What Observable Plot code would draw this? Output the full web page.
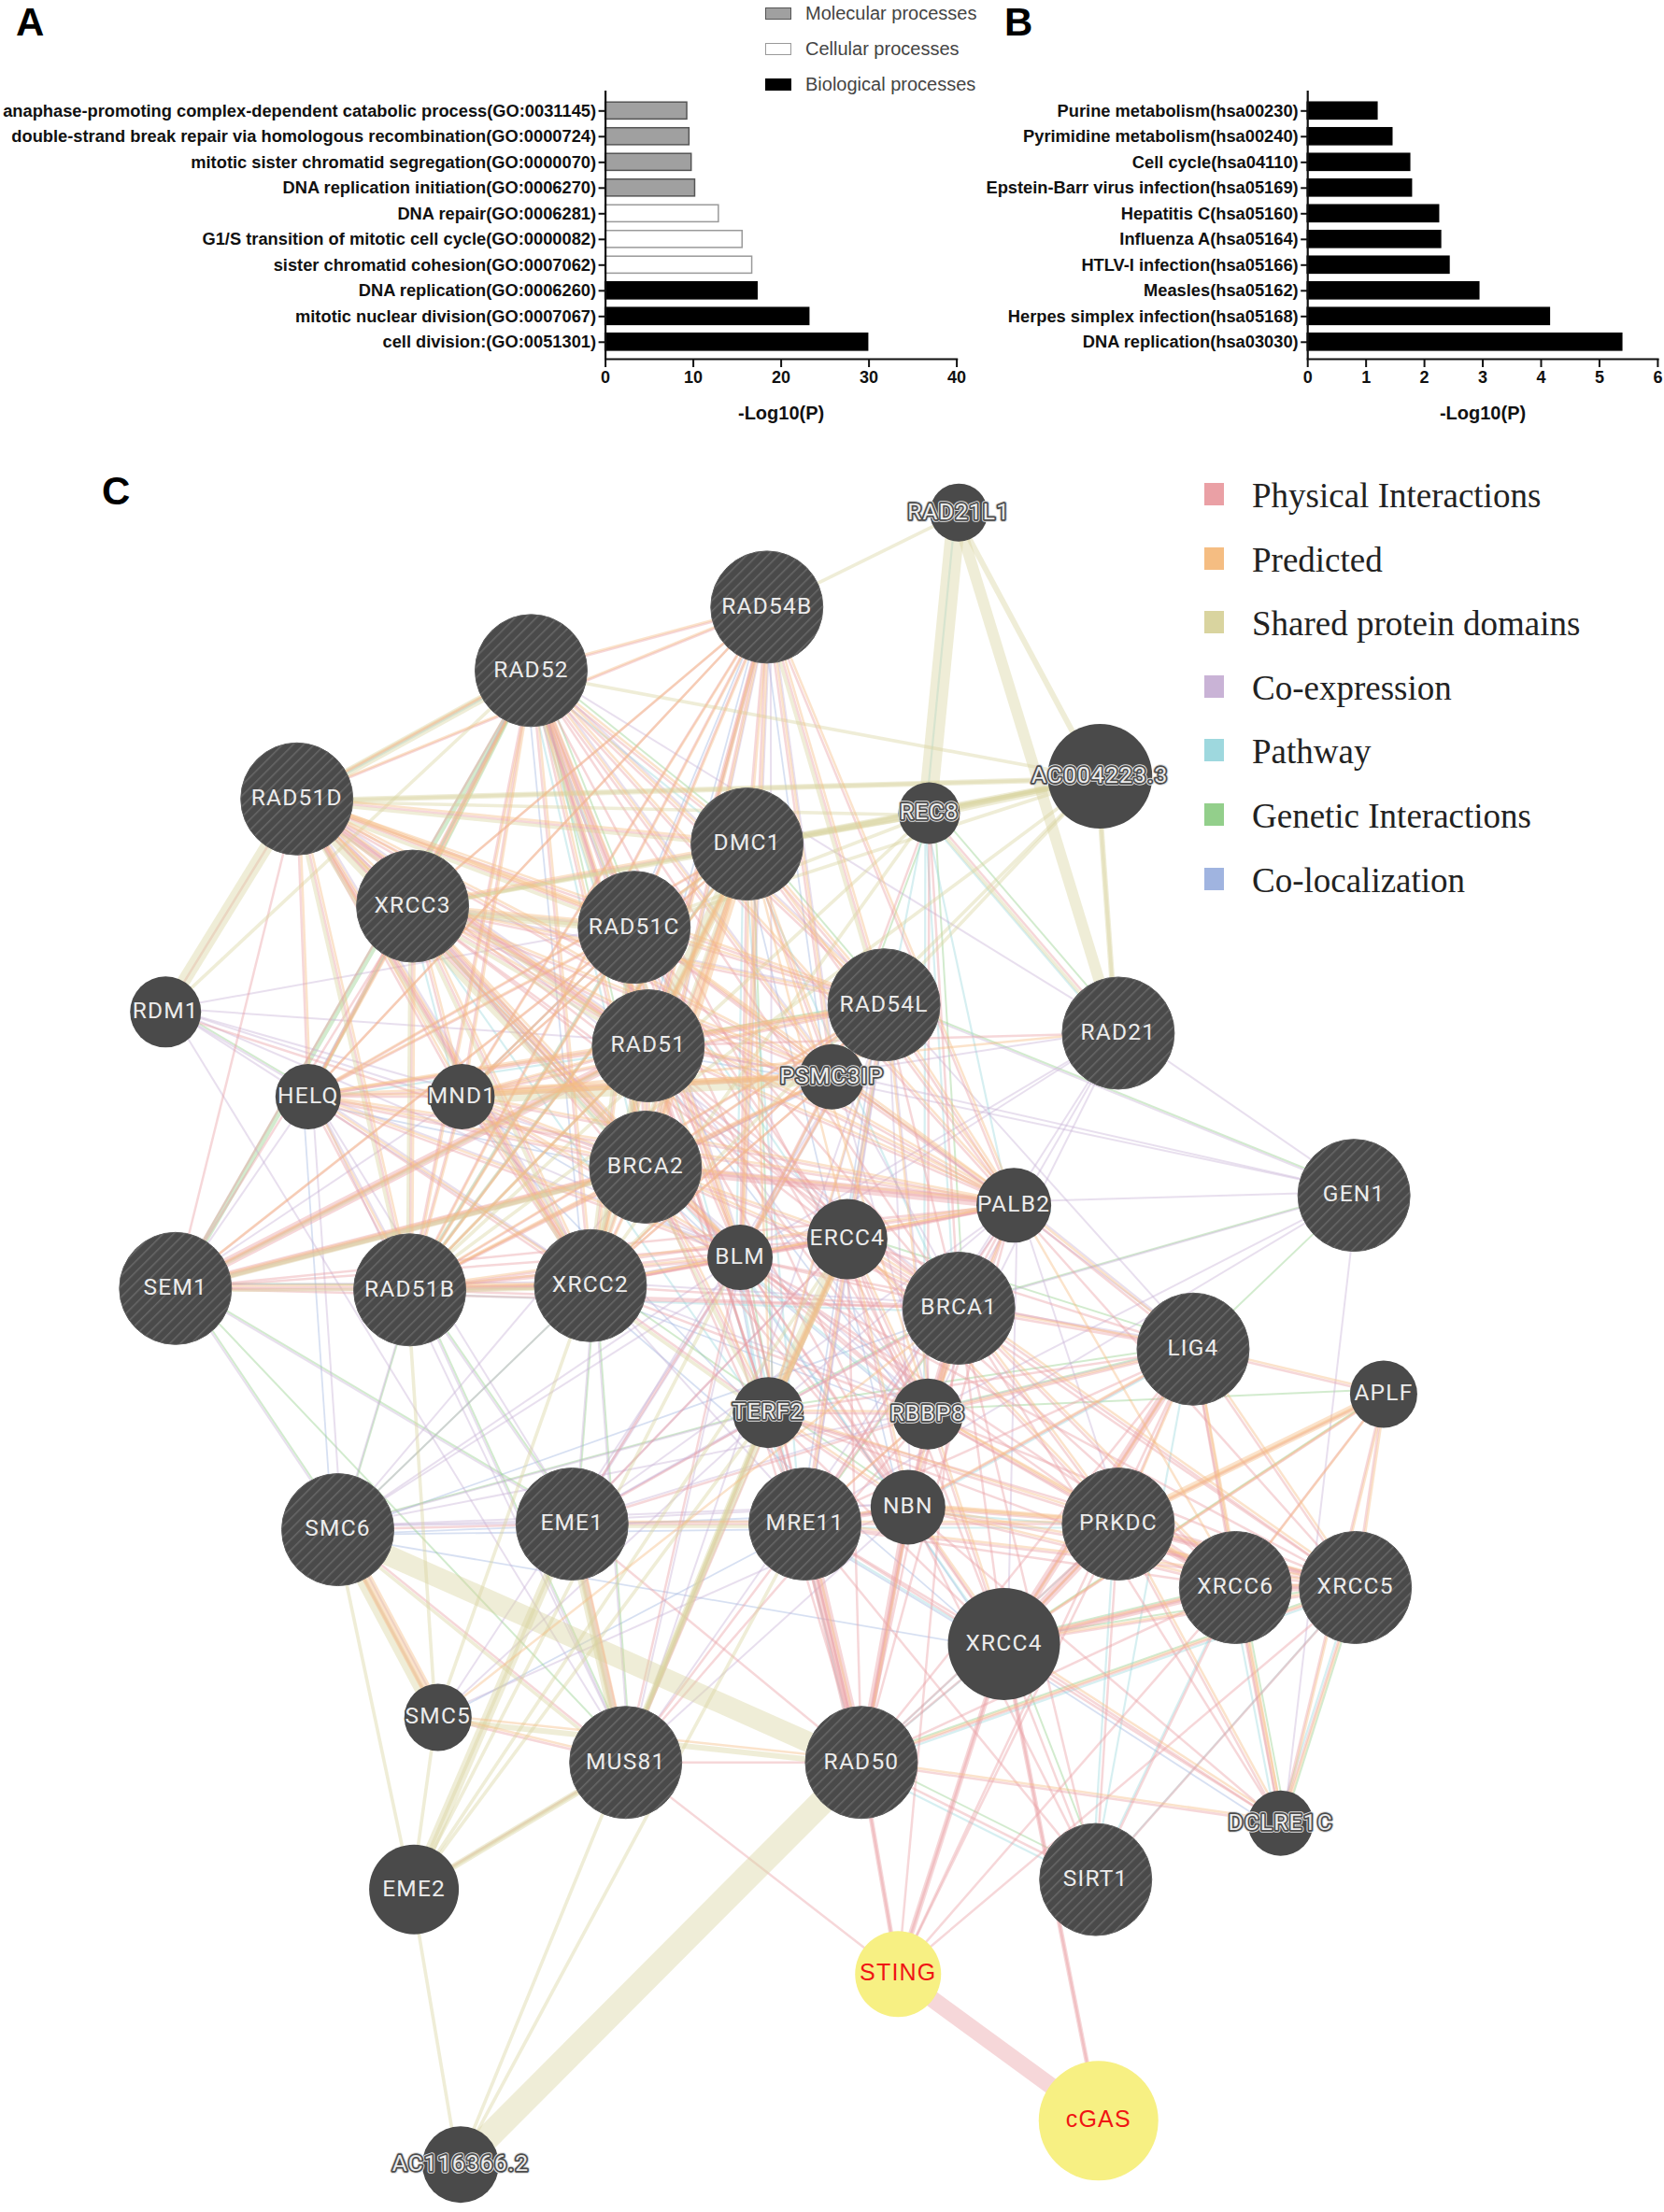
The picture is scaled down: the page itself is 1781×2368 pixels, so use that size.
<!DOCTYPE html>
<html><head><meta charset="utf-8">
<script src="https://cdn.jsdelivr.net/npm/d3@7"></script>
<script src="https://cdn.jsdelivr.net/npm/@observablehq/plot@0.6"></script>
<style>
html,body{margin:0;padding:0;background:#fff}
#page{position:relative;width:1781px;height:2368px;overflow:hidden;font-family:"Liberation Sans",Arial,sans-serif}
#page>svg,#page>div{position:absolute}
.letter{font-weight:bold;font-size:42px;line-height:42px;color:#000}
#legA{left:819px;top:0;width:220px}
#legA .r{position:absolute;left:0;display:flex;align-items:center;height:24px;white-space:nowrap;font-size:20px;color:#444}
#legA i{display:inline-block;box-sizing:border-box;width:28px;height:13px;margin-right:15px;border:1.5px solid #555}
#legC .r{position:absolute;left:0;height:42px;white-space:nowrap;font:37px/42px "Liberation Serif",serif;color:#222}
#legC i{position:absolute;left:0;top:9px;width:21px;height:24px}
#legC span{position:absolute;left:51px;top:2px}
</style></head><body><div id="page"></div>
<script>
// ---- Panel A
const goTerms=["anaphase-promoting complex-dependent catabolic process(GO:0031145)","double-strand break repair via homologous recombination(GO:0000724)","mitotic sister chromatid segregation(GO:0000070)","DNA replication initiation(GO:0006270)","DNA repair(GO:0006281)","G1/S transition of mitotic cell cycle(GO:0000082)","sister chromatid cohesion(GO:0007062)","DNA replication(GO:0006260)","mitotic nuclear division(GO:0007067)","cell division:(GO:0051301)"];
const goValues=[9.3,9.55,9.8,10.2,12.9,15.6,16.7,17.3,23.2,29.9];
const goGroups=["Molecular processes","Molecular processes","Molecular processes","Molecular processes","Cellular processes","Cellular processes","Cellular processes","Biological processes","Biological processes","Biological processes"];
const goLegend=["Molecular processes","Cellular processes","Biological processes"];
const goFill=["#a0a0a0","#ffffff","#000000"];
const goStroke=["#555555","#9a9a9a","#000000"];
// ---- Panel B
const keggTerms=["Purine metabolism(hsa00230)","Pyrimidine metabolism(hsa00240)","Cell cycle(hsa04110)","Epstein-Barr virus infection(hsa05169)","Hepatitis C(hsa05160)","Influenza A(hsa05164)","HTLV-I infection(hsa05166)","Measles(hsa05162)","Herpes simplex infection(hsa05168)","DNA replication(hsa03030)"];
const keggValues=[1.195,1.45,1.755,1.785,2.25,2.285,2.43,2.94,4.15,5.39];
// ---- Panel C: nodes, read in the 1179x1568 view of the picture
const nodeNames=["RAD21L1","RAD54B","RAD52","RAD51D","AC004223.3","REC8","DMC1","XRCC3","RAD51C","RDM1","RAD54L","RAD21","RAD51","PSMC3IP","HELQ","MND1","BRCA2","GEN1","PALB2","ERCC4","BLM","SEM1","RAD51B","XRCC2","BRCA1","LIG4","APLF","TERF2","RBBP8","SMC6","EME1","MRE11","NBN","PRKDC","XRCC6","XRCC5","XRCC4","SMC5","MUS81","RAD50","DCLRE1C","SIRT1","EME2","STING","cGAS","AC116366.2"];
const nodeX=[679,543,376,210,779,658,529,292,449,117,626,792,459,589,218,327,457,959,718,600,524,124,290,418,679,845,980,544,657,239,405,570,643,792,875,960,711,310,443,610,907,776,293,636,778,326];
const nodeY=[363,430,475,566,550,576,598,642,657,717,712,732,741,763,777,777,827,847,854,878,891,913,914,911,927,956,988,1001,1002,1084,1080,1080,1068,1080,1125,1125,1165,1217,1249,1249,1292,1332,1339,1399,1503,1534];
const nodeR=[31,60,60,60,56,33,60,60,60,38,60,60,60,35,35,35,60,60,40,43,35,60,60,60,60,60,36,38,38,60,60,60,40,60,60,60,60,36,60,60,35,60,48,46,64,41];
const highlighted=["STING","cGAS"];
const outlined=["RAD21L1","AC004223.3","PSMC3IP","DCLRE1C","AC116366.2","REC8","RBBP8","TERF2"];
const darkEdged=["HELQ","MND1","RDM1","SMC5","APLF","ERCC4","PALB2"];
const plainDark=["RAD21L1","REC8","RDM1","PSMC3IP","HELQ","MND1","PALB2","ERCC4","BLM","APLF","TERF2","RBBP8","NBN","SMC5","DCLRE1C","EME2","AC116366.2","AC004223.3","XRCC4"];
// ---- Panel C: legend
const edgeTypes=["Physical Interactions","Predicted","Shared protein domains","Co-expression","Pathway","Genetic Interactions","Co-localization"];
const edgeColors=["#eaa0a5","#f5bd82","#d9d49f","#c9b3d6","#9ed8de","#93cf8b","#a0b4e0"];
// ---- Panel C: gene groups whose members are joined in the picture
const hrCore="RAD51 RAD51B RAD51C RAD51D XRCC2 XRCC3 BRCA2 DMC1 RAD52 RAD54L RAD54B PSMC3IP MND1 HELQ BLM PALB2";
const hrParalogs="RAD51 RAD51B RAD51C RAD51D XRCC2 XRCC3 DMC1";
const repairCore="BRCA1 MRE11 RAD50 NBN RBBP8 TERF2 BLM ERCC4 PRKDC XRCC4 XRCC5 XRCC6 LIG4";
const nhej="PRKDC XRCC4 XRCC5 XRCC6 LIG4 APLF DCLRE1C";
// ---- Panel C: edges, hub then partners
const physical={
RAD51:"BRCA1 SEM1 RAD21 RBBP8 NBN MRE11 RAD50 TERF2 ERCC4",
BRCA2:"BRCA1 RBBP8 NBN MRE11 ERCC4 RDM1 SEM1 TERF2",
SEM1:"RAD51B XRCC2 PALB2 BRCA1 RAD51C RAD52 ERCC4 XRCC3 RAD51D",
RAD51C:"BRCA1 RBBP8 NBN ERCC4",
XRCC3:"BRCA1 ERCC4 NBN",
XRCC2:"BRCA1 RBBP8 ERCC4 TERF2",
RAD51B:"BRCA1 ERCC4",
RAD51D:"RDM1 BRCA1",
RAD54L:"BRCA1 ERCC4",
RAD52:"BRCA1 RBBP8 TERF2",
PALB2:"BRCA1 RBBP8 ERCC4 MRE11 NBN RAD50 XRCC5 LIG4",
BRCA1:"SIRT1 DCLRE1C",
MRE11:"SIRT1 EME1 MUS81 DCLRE1C",
RAD50:"SIRT1 MUS81 EME1 DCLRE1C STING",
NBN:"SIRT1 DCLRE1C",
PRKDC:"SIRT1 STING",
XRCC6:"SIRT1 STING",
XRCC5:"SIRT1 STING",
XRCC4:"STING cGAS SIRT1",
LIG4:"STING",
STING:"MUS81 BRCA1",
MUS81:"EME2 SMC5 BLM ERCC4 TERF2 RBBP8 SMC6",
EME1:"BLM TERF2 ERCC4 SMC6 RBBP8",
SMC6:"SMC5",
REC8:"RAD21 PSMC3IP BRCA1 RBBP8"};
const predicted={
MND1:"RAD21",
SEM1:"RAD51 XRCC2 RAD51C BRCA2",
BRCA2:"TERF2 BRCA1 ERCC4",
DMC1:"TERF2 ERCC4 RBBP8",
RAD54L:"ERCC4 PALB2 TERF2 RBBP8",
ERCC4:"TERF2 RBBP8 BRCA1 MRE11 NBN PRKDC",
BRCA1:"RBBP8 NBN XRCC5 LIG4 PRKDC XRCC6",
MRE11:"RBBP8 NBN PRKDC XRCC5",
NBN:"PRKDC XRCC4 XRCC6 XRCC5 LIG4",
RBBP8:"PRKDC XRCC4 LIG4 XRCC6",
TERF2:"PRKDC NBN RBBP8",
RAD50:"DCLRE1C MRE11 NBN XRCC5 SMC5",
EME1:"MUS81 MRE11",
PALB2:"RBBP8 LIG4 XRCC6",
SMC5:"MUS81 BRCA1"};
const shared={
RAD51:"RAD52",
DMC1:"AC004223.3 REC8",
RAD51C:"REC8 AC004223.3",
RAD51D:"REC8 AC004223.3",
XRCC2:"AC004223.3 REC8",
XRCC3:"AC004223.3 REC8",
RAD51B:"AC004223.3 REC8",
RAD54L:"RAD54B AC004223.3",
REC8:"AC004223.3 RAD21",
RDM1:"RAD52",
EME1:"MUS81 EME2 MRE11",
MUS81:"EME2 ERCC4 TERF2",
EME2:"SMC5 SMC6 AC116366.2 TERF2 ERCC4 BLM",
SMC6:"MUS81",
SMC5:"RAD51B XRCC2",
RAD21L1:"RAD54B",
SEM1:"RAD51 BRCA2 XRCC2",
"AC004223.3":"RAD52 RAD54L RAD21",
"AC116366.2":"MRE11 TERF2",
TERF2:"XRCC2 BRCA2"};
const coexpression={
RDM1:"HELQ MND1 MUS81 RAD51 BRCA2 XRCC2 BLM RAD51C",
SEM1:"HELQ SMC6 MND1 XRCC2 EME1",
RAD52:"RAD54L PSMC3IP RAD21",
GEN1:"RAD21 PSMC3IP RAD54L RAD51 BRCA1 PALB2 MRE11 RBBP8 DCLRE1C",
SMC6:"EME1 MRE11 XRCC2 BLM TERF2 RBBP8 BRCA2 RAD51B NBN SMC5",
RAD54L:"MUS81 TERF2 ERCC4 MRE11 XRCC3 LIG4 NBN RBBP8",
EME1:"BLM ERCC4 TERF2 RBBP8 NBN BRCA1 RAD51B XRCC2 PALB2 RAD54L",
RAD54B:"BRCA2 RAD51 BLM PSMC3IP TERF2",
RAD51D:"RAD51 BRCA1 XRCC2 BLM",
PALB2:"TERF2 MUS81 LIG4 XRCC4 PRKDC GEN1",
HELQ:"SMC6 XRCC2 RAD51B EME1 BLM MUS81",
MRE11:"RAD21 ERCC4 XRCC2",
RBBP8:"RAD51 BRCA2 XRCC2 PSMC3IP",
BLM:"PSMC3IP RAD54L RAD51C XRCC2",
RAD21:"PSMC3IP SMC6 BRCA1 BLM RBBP8",
BRCA1:"XRCC2 PSMC3IP LIG4",
LIG4:"RBBP8 PSMC3IP",
MUS81:"XRCC2 RAD51B NBN BLM",
SMC5:"BLM TERF2 NBN"};
const pathway={
REC8:"BRCA1 RAD21 RBBP8 ERCC4 RAD21L1 PALB2",
PRKDC:"NBN RAD50 SIRT1 MRE11",
LIG4:"SIRT1 NBN",
XRCC4:"NBN RAD50 MRE11",
DMC1:"MRE11 BRCA1 BLM RAD51B",
RAD52:"RAD51C DMC1 XRCC3 BRCA2 RAD51 RAD51D",
RAD51B:"BRCA1 RAD51C",
RAD51C:"ERCC4 TERF2",
MRE11:"RAD50 TERF2 BLM",
RAD50:"SIRT1 XRCC5",
XRCC5:"SIRT1 DCLRE1C",
XRCC6:"SIRT1 DCLRE1C",
HELQ:"XRCC3 RAD51",
XRCC3:"BLM TERF2 MND1 BRCA2",
MND1:"RAD51C",
BLM:"TERF2 RBBP8 NBN"};
const genetic={
RAD52:"HELQ XRCC3 RAD51C DMC1 BRCA2",
RAD54L:"GEN1 DMC1 RAD51",
GEN1:"BRCA1 LIG4",
REC8:"RAD21 BRCA1 PSMC3IP",
RAD50:"SIRT1 XRCC5",
XRCC4:"SIRT1 XRCC6 XRCC5",
SMC6:"SEM1 TERF2 XRCC2 RAD51B",
SEM1:"MUS81 RAD51B EME1",
TERF2:"DMC1 BLM BRCA1",
DCLRE1C:"XRCC5 XRCC6",
RDM1:"HELQ",
APLF:"XRCC4 RBBP8",
RAD51B:"EME1 MUS81",
XRCC2:"EME1 MUS81 NBN",
LIG4:"ERCC4 RBBP8 TERF2",
BRCA1:"MRE11"};
const coloc={
RAD52:"XRCC2 RAD51C",
MRE11:"SMC6 SMC5 RAD54L",
NBN:"SMC6 DMC1",
XRCC4:"DCLRE1C XRCC2 BLM MRE11",
SMC6:"BRCA1 XRCC4",
RAD54B:"RAD51C PSMC3IP RAD51",
RBBP8:"XRCC2 RAD51 BLM",
BLM:"MND1 BRCA2 TERF2",
HELQ:"SMC6 BRCA2",
MND1:"TERF2",
PSMC3IP:"BRCA2 RAD51"};
// heavy edges: a, b, width, type
const heavyEdges=[
["AC116366.2","RAD50",27,"Shared protein domains"],["RAD21L1","REC8",20,"Shared protein domains"],["RAD21L1","AC004223.3",6,"Shared protein domains"],["RAD21L1","RAD21",12,"Shared protein domains"],["AC004223.3","RAD21",6,"Shared protein domains"],
["RDM1","RAD51D",14,"Shared protein domains"],["RAD51D","RAD52",9,"Shared protein domains"],["SMC6","RAD50",22,"Shared protein domains"],["SMC6","SMC5",11,"Shared protein domains"],["EME2","EME1",11,"Shared protein domains"],["EME2","MUS81",7,"Shared protein domains"],["SMC5","RAD50",6,"Shared protein domains"],
["DMC1","AC004223.3",7,"Shared protein domains"],["RAD51D","AC004223.3",6,"Shared protein domains"],["REC8","AC004223.3",8,"Shared protein domains"],["RAD51","DMC1",14,"Shared protein domains"],["RAD51C","XRCC3",9,"Shared protein domains"],["MND1","PSMC3IP",12,"Shared protein domains"],["BRCA2","RAD51D",6,"Shared protein domains"],["XRCC2","RAD51",8,"Shared protein domains"],["MUS81","EME1",9,"Shared protein domains"],["SEM1","BRCA2",6,"Shared protein domains"],["TERF2","ERCC4",12,"Shared protein domains"],["MUS81","TERF2",7,"Shared protein domains"],
["STING","cGAS",18,"Physical Interactions"],["BRCA2","PALB2",10,"Physical Interactions"],["SEM1","RAD51",10,"Physical Interactions"],["SEM1","BRCA2",8,"Physical Interactions"],["MRE11","RAD50",14,"Physical Interactions"],["RAD51D","RAD51",7,"Physical Interactions"],["RAD52","RAD51C",7,"Physical Interactions"],["RAD52","RAD51",5,"Physical Interactions"],["MUS81","EME1",7,"Physical Interactions"],["XRCC6","XRCC5",8,"Physical Interactions"],["PRKDC","XRCC5",6,"Physical Interactions"],["PRKDC","XRCC6",7,"Physical Interactions"],["LIG4","XRCC4",9,"Physical Interactions"],["PRKDC","XRCC4",9,"Physical Interactions"],["XRCC4","XRCC6",7,"Physical Interactions"],["BRCA1","RBBP8",7,"Physical Interactions"],["NBN","RAD50",8,"Physical Interactions"],["NBN","MRE11",6,"Physical Interactions"],["RAD50","STING",5,"Physical Interactions"],["XRCC4","cGAS",5,"Physical Interactions"],["XRCC4","STING",6,"Physical Interactions"],["RAD51D","XRCC2",6,"Physical Interactions"],["RAD51B","XRCC2",6,"Physical Interactions"],
["PRKDC","APLF",8,"Predicted"],["RAD51D","RAD51C",6,"Predicted"],["DMC1","BRCA2",10,"Predicted"],["SMC6","SMC5",11,"Predicted"],["PSMC3IP","MND1",7,"Predicted"],["DMC1","RAD51",6,"Predicted"],["ERCC4","TERF2",7,"Predicted"],["NBN","PRKDC",5,"Predicted"],
["RAD52","SEM1",6,"Genetic Interactions"]];
const typeWidth={"Physical Interactions":2.5,"Predicted":2.5,"Shared protein domains":3.6,"Co-expression":2,"Pathway":2.2,"Genetic Interactions":2,"Co-localization":1.8};

const idx=new Map(nodeNames.map((n,i)=>[n,i]));
const nodes=nodeNames.map((name,i)=>({name,x:nodeX[i],y:nodeY[i],r:nodeR[i]}));
const edges=[],seen=new Set();
function addPair(type,p,q){if(p===q)return;const k=type+"|"+[p,q].sort().join("|");if(seen.has(k))return;seen.add(k);edges.push({a:nodes[idx.get(p)],b:nodes[idx.get(q)],type,w:typeWidth[type]});}
function add(type,list){for(const hub in list)for(const p of list[hub].split(" "))addPair(type,hub,p);}
function clique(type,names){const g=names.split(" ");g.forEach((p,i)=>g.slice(i+1).forEach(q=>addPair(type,p,q)));}
add(edgeTypes[6],coloc);add(edgeTypes[5],genetic);add(edgeTypes[4],pathway);add(edgeTypes[3],coexpression);
clique(edgeTypes[2],hrParalogs);add(edgeTypes[2],shared);
clique(edgeTypes[1],hrCore);clique(edgeTypes[1],nhej);add(edgeTypes[1],predicted);
clique(edgeTypes[0],hrCore);clique(edgeTypes[0],repairCore);clique(edgeTypes[0],nhej);add(edgeTypes[0],physical);
for(const [p,q,w,type] of heavyEdges)edges.push({a:nodes[idx.get(p)],b:nodes[idx.get(q)],type,w});

const page=document.getElementById("page");
function place(el,l,t){el.style.left=l+"px";el.style.top=t+"px";page.appendChild(el);return el;}

function barPanel(terms,values,opts){
  const rows=terms.map((t,i)=>({t,v:values[i],g:opts.groups?opts.groups[i]:"one"}));
  return Plot.plot({
    width:opts.width,height:470,marginTop:97,marginBottom:86,marginLeft:opts.left,marginRight:opts.width-opts.right,
    style:{fontFamily:"'Liberation Sans',Arial,sans-serif",fontWeight:"bold",fontSize:"18.3px",color:"#111",background:"transparent",overflow:"visible"},
    x:{domain:opts.domain,range:[opts.left,opts.right]},
    y:{domain:terms,range:[104.55,379.55],paddingInner:0.34,paddingOuter:0.17,round:false},
    marks:[
      Plot.barX(rows,{x:"v",y:"t",fill:d=>opts.fill(d.g),stroke:d=>opts.stroke(d.g),strokeWidth:1.5}),
      Plot.ruleX([0],{strokeWidth:2.2,stroke:"#111"}),
      Plot.frame({anchor:"bottom",strokeWidth:2.2,stroke:"#111"}),
      Plot.axisY({tickSize:7,tickPadding:3,label:null,strokeWidth:2,tickFormat:d=>d,fontSize:18.3}),
      Plot.axisX({ticks:opts.ticks,tickFormat:d3.format("d"),tickSize:9,tickPadding:4,strokeWidth:2,label:null,fontSize:18}),
      Plot.axisX({ticks:[],label:"-Log10(P)",labelAnchor:"center",labelArrow:"none",labelOffset:64,fontSize:20,tickSize:0})
    ]});
}
const goFillOf=g=>goFill[goLegend.indexOf(g)], goStrokeOf=g=>goStroke[goLegend.indexOf(g)];
place(barPanel(goTerms,goValues,{width:1040,left:647.6,right:1023.6,domain:[0,40],ticks:[0,10,20,30,40],groups:goGroups,fill:goFillOf,stroke:goStrokeOf}),0,0);
place(barPanel(keggTerms,keggValues,{width:1781,left:1399.2,right:1773.9,domain:[0,6],ticks:[0,1,2,3,4,5,6],fill:()=>"#000",stroke:()=>"#000"}),0,0);

const hatch=()=>{
  const g=d3.create("svg:defs");
  g.html('<pattern id="hatch" width="8" height="8" patternUnits="userSpaceOnUse" patternTransform="rotate(45)"><rect width="8" height="8" fill="#4a4a4a"/><rect x="0" width="1.5" height="8" fill="#686868"/></pattern>');
  return g.node();
};
const labelStyle={text:"name",x:"x",y:"y",fontFamily:"Roboto,sans-serif",fontSize:24.5,dy:-1};
const isY=d=>highlighted.includes(d.name), isOut=d=>outlined.includes(d.name), isDarkEdged=d=>darkEdged.includes(d.name);
const typeShift=[0,2.4,-2.4,4,-4,5.5,-5.5];
const net=Plot.plot({
  width:1781,height:2368,margin:0,
  style:{background:"transparent",letterSpacing:"1.2px"},
  x:{domain:[0,1179],range:[0,1781],axis:null},
  y:{domain:[0,1568],range:[0,2368],axis:null},
  r:{type:"identity"},
  color:{domain:edgeTypes,range:edgeColors},
  marks:[
    hatch,
    [6,5,4,3,0,2,1].map(i=>Plot.link(edges.filter(e=>e.type===edgeTypes[i]),{x1:d=>d.a.x,y1:d=>d.a.y,x2:d=>d.b.x,y2:d=>d.b.y,stroke:"type",strokeWidth:"w",strokeOpacity:0.42,dx:typeShift[i],dy:-typeShift[i]})),
    Plot.dot(nodes.filter(d=>!isY(d)&&plainDark.includes(d.name)),{x:"x",y:"y",r:"r",fill:"#4a4a4a"}),
    Plot.dot(nodes.filter(d=>!isY(d)&&!plainDark.includes(d.name)),{x:"x",y:"y",r:"r",fill:"url(#hatch)",stroke:"#5c5c5c",strokeWidth:1}),
    Plot.dot(nodes.filter(isY),{x:"x",y:"y",r:"r",fill:"#f7f083"}),
    Plot.text(nodes.filter(isOut),{...labelStyle,fill:"none",stroke:"#dddddd",strokeWidth:5.5}),
    Plot.text(nodes.filter(d=>isOut(d)||isDarkEdged(d)),{...labelStyle,fill:"none",stroke:"#4a4a4a",strokeWidth:3.5}),
    Plot.text(nodes.filter(d=>!isY(d)),{...labelStyle,fill:"#ececec"}),
    Plot.text(nodes.filter(isY),{text:"name",x:"x",y:"y",fontFamily:"'Liberation Sans',sans-serif",fontSize:25,fill:"#f01414",dy:-1})
  ]});
place(net,0,0);

// panel letters
[["A",17,3],["B",1075,3],["C",109,505]].forEach(([t,l,top])=>{const d=document.createElement("div");d.className="letter";d.textContent=t;place(d,l,top);});
// legend A
const la=document.createElement("div");la.id="legA";
goLegend.forEach((t,i)=>{const r=document.createElement("div");r.className="r";r.style.top=(2+38*i)+"px";
 const s=document.createElement("i");s.style.background=goFill[i];s.style.borderColor=goStroke[i];r.append(s,t);la.appendChild(r);});
page.appendChild(la);
// legend C
const lc=document.createElement("div");lc.id="legC";lc.style.cssText="left:1289px;top:508px;width:470px;height:470px";
edgeTypes.forEach((t,i)=>{const r=document.createElement("div");r.className="r";r.style.top=(68.6*i)+"px";
 const s=document.createElement("i");s.style.background=edgeColors[i];const n=document.createElement("span");n.textContent=t;r.append(s,n);lc.appendChild(r);});
page.appendChild(lc);
</script></body></html>
